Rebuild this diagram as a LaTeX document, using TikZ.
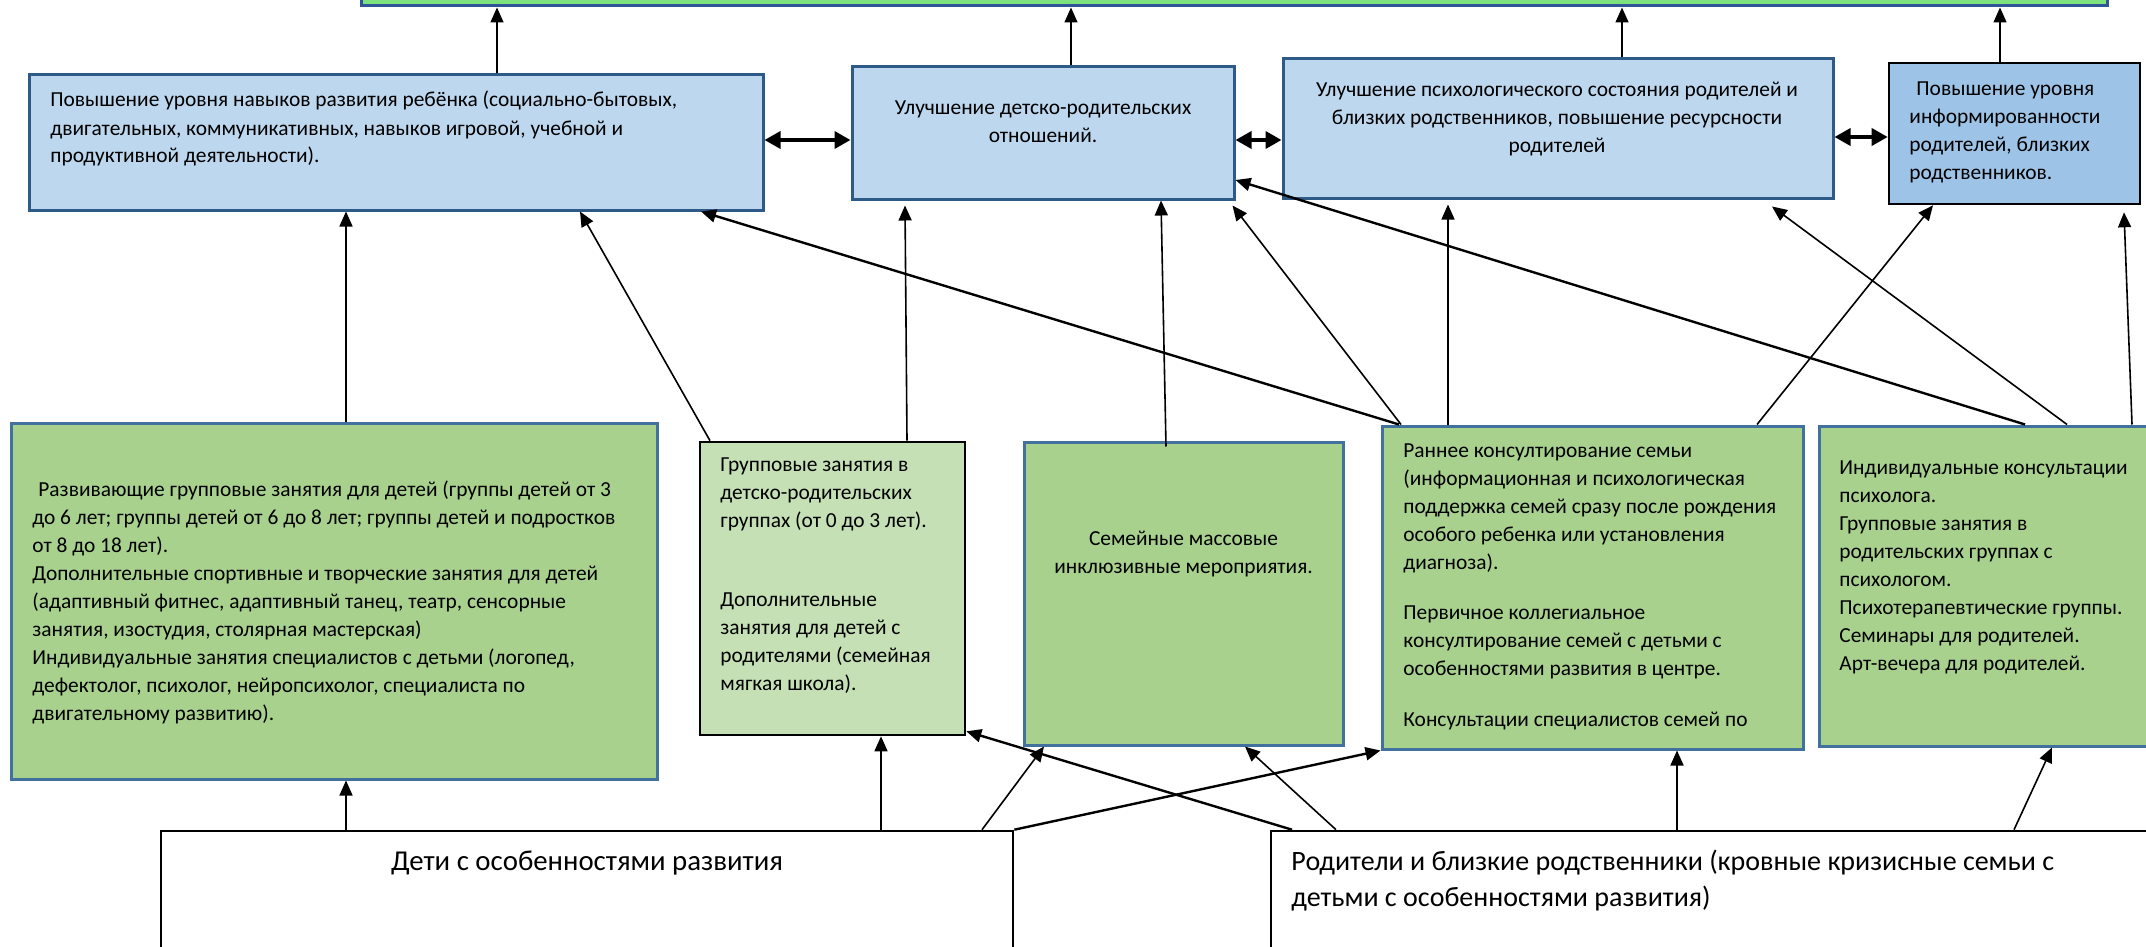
\documentclass[tikz,border=0pt]{standalone}
\usepackage{fontspec}
\setmainfont{Carlito}
\usetikzlibrary{arrows.meta,calc,fit}
\definecolor{topgreen}{RGB}{125,226,125}
\definecolor{topborder}{RGB}{47,85,151}
\definecolor{bluefill}{RGB}{189,215,238}
\definecolor{blueborder}{RGB}{46,90,135}
\definecolor{dfill}{RGB}{157,195,230}
\definecolor{greenfill}{RGB}{169,209,142}
\definecolor{greenborder}{RGB}{65,113,156}
\definecolor{lightgreen}{RGB}{197,224,180}
\begin{document}
\begin{tikzpicture}[x=0.5pt,y=-0.5pt,
  box/.style={rectangle, inner sep=0pt},
  topbox/.style={box, fill=topgreen, draw=topborder, line width=1.5pt},
  bluebox/.style={box, fill=bluefill, draw=blueborder, line width=1.5pt},
  infobox/.style={box, fill=dfill, draw=black, line width=1.3pt},
  greenbox/.style={box, fill=greenfill, draw=greenborder, line width=1.5pt},
  lightbox/.style={box, fill=lightgreen, draw=black, line width=1.3pt},
  whitebox/.style={box, fill=white, draw=black, line width=1.3pt},
  conn/.style={-{Triangle[length=7.5pt,width=6.5pt]}, line width=0.8pt},
  thickconn/.style={conn, line width=1.2pt},
  dbl/.style={{Triangle[length=8pt,width=8.5pt]}-{Triangle[length=8pt,width=8.5pt]}, line width=1.8pt},
  smalltext/.style={inner sep=0pt, font=\fontsize{10.7}{14}\selectfont},
  bigtext/.style={inner sep=0pt, font=\fontsize{14.4}{18}\selectfont},
  bigtextk/.style={inner sep=0pt, font=\fontsize{14}{18}\selectfont}]
\useasboundingbox (0,0) rectangle (2146,947);

% top bar
\node[topbox, fit={(361,-30) (2107,6)}] (T) {};

% result boxes
\node[bluebox, fit={(29,75) (763,210)}] (A) {};
\node[bluebox, fit={(852,67) (1234,199)}] (B) {};
\node[bluebox, fit={(1283,59) (1833,198)}] (C) {};
\node[infobox, fit={(1889,63) (2140,204)}] (D) {};

% activity boxes
\node[greenbox, fit={(11,423) (657,779)}] (E) {};
\node[lightbox, fit={(700,442) (965,735)}] (F) {};
\node[greenbox, fit={(1024,442) (1343,745)}] (G) {};
\node[greenbox, fit={(1382,426) (1803,749)}] (H) {};
\node[greenbox, fit={(1819,426) (2170,746)}] (I) {};

% target groups
\node[whitebox, fit={(161,831) (1013,990)}] (J) {};
\node[whitebox, fit={(1271,831) (2170,990)}] (K) {};

% texts
\node[smalltext, anchor=base west] (At) at (50,107) {\parbox[t]{360pt}{\raggedright
Повышение уровня навыков развития ребёнка (социально-бытовых,\\
двигательных, коммуникативных, навыков игровой, учебной и\\
продуктивной деятельности).}};
\node[smalltext, anchor=base] (Bt) at (1043,114) {\parbox[t]{180pt}{\centering
Улучшение детско-родительских\\ отношений.}};
\node[smalltext, anchor=base] (Ct) at (1557,97) {\parbox[t]{270pt}{\centering
Улучшение психологического состояния родителей и\\
близких родственников, повышение ресурсности\\ родителей}};
\node[smalltext, anchor=base west] (Dt) at (1909,96) {\parbox[t]{120pt}{\raggedright
\hspace*{3.5pt}Повышение уровня\\ информированности\\ родителей, близких\\ родственников.}};

\node[smalltext, anchor=base west] (Et) at (32,496) {\parbox[t]{320pt}{\raggedright
\hspace*{3pt}Развивающие групповые занятия для детей (группы детей от 3\\
до 6 лет; группы детей от 6 до 8 лет; группы детей и подростков\\
от 8 до 18 лет).\\
Дополнительные спортивные и творческие занятия для детей\\
(адаптивный фитнес, адаптивный танец, театр, сенсорные\\
занятия, изостудия, столярная мастерская)\\
Индивидуальные занятия специалистов с детьми (логопед,\\
дефектолог, психолог, нейропсихолог, специалиста по\\
двигательному развитию).}};
\node[smalltext, anchor=base west] (Ft) at (720,471) {\parbox[t]{125pt}{\raggedright
Групповые занятия в\\ детско-родительских\\ группах (от 0 до 3 лет).\\[25.75pt]
Дополнительные\\ занятия для детей с\\ родителями (семейная\\ мягкая школа).}};
\node[smalltext, anchor=base] (Gt) at (1183.5,545) {\parbox[t]{150pt}{\centering
Семейные массовые\\ инклюзивные мероприятия.}};
\node[smalltext, anchor=base west] (Ht) at (1403,457) {\parbox[t]{220pt}{\raggedright
Раннее консултирование семьи\\ (информационная и психологическая\\
поддержка семей сразу после рождения\\ особого ребенка или установления\\
диагноза).\\[11.25pt]
Первичное коллегиальное\\ консултирование семей с детьми с\\
особенностями развития в центре.\\[11.25pt]
Консультации специалистов семей по}};
\node[smalltext, anchor=base west] (It) at (1839,474) {\parbox[t]{170pt}{\raggedright
Индивидуальные консультации\\ психолога.\\ Групповые занятия в\\
родительских группах с\\ психологом.\\ Психотерапевтические группы.\\
Семинары для родителей.\\ Арт-вечера для родителей.}};

\node[bigtext, anchor=base] (Jt) at (587,870) {Дети с особенностями развития};
\node[bigtextk, anchor=base west] (Kt) at (1291,870) {\parbox[t]{440pt}{\raggedright
Родители и близкие родственники (кровные кризисные семьи с\\
детьми с особенностями развития)}};

% arrows to top bar
\draw[conn] (A.north -| 497,0) -- (T.south -| 497,0);
\draw[conn] (B.north -| 1071,0) -- (T.south -| 1071,0);
\draw[conn] (C.north -| 1622,0) -- (T.south -| 1622,0);
\draw[conn] (D.north -| 2000,0) -- (T.south -| 2000,0);

% double arrows
\draw[dbl] (A.east |- 0,140) -- (B.west |- 0,140);
\draw[dbl] (B.east |- 0,140) -- (C.west |- 0,140);
\draw[dbl] (C.east |- 0,137) -- (D.west |- 0,137);

% activities -> results
\draw[conn] (E.north -| 346,0) -- (A.south -| 346,0);
\draw[conn] (F.north -| 710,0) -- (A.south -| 580,0);
\draw[thickconn] (H.north -| 1399,0) -- (A.south -| 701,0);
\draw[conn] (F.north -| 907,0) -- ($(B.south -| 905,0)+(0,5)$);
\draw[conn] ($(G.north -| 1166,0)+(0,6)$) -- (B.south -| 1161,0);
\draw[conn] (H.north -| 1401,0) -- ($(B.south east)+(-3,5)$);
\draw[thickconn] (I.north -| 2025,0) -- (B.east |- 0,180);
\draw[conn] (H.north -| 1448,0) -- ($(C.south -| 1448,0)+(0,5)$);
\draw[conn] (I.north -| 2067,0) -- ($(C.south -| 1772,0)+(0,7)$);
\draw[conn] (H.north -| 1757,0) -- (D.south -| 1933,0);
\draw[conn] (I.north -| 2132,0) -- ($(D.south -| 2124,0)+(0,7)$);

% target groups -> activities
\draw[conn] (J.north -| 346,0) -- (E.south -| 346,0);
\draw[conn] (J.north -| 881,0) -- (F.south -| 881,0);
\draw[conn] (J.north -| 982,0) -- (G.south -| 1044,0);
\draw[thickconn] (J.north east) -- (H.south west);
\draw[thickconn] (K.north -| 1292,0) -- ($(F.south east)+(0,-5)$);
\draw[conn] (K.north -| 1336,0) -- (G.south -| 1245,0);
\draw[conn] (K.north -| 1677,0) -- (H.south -| 1677,0);
\draw[conn] (K.north -| 2014,0) -- (I.south -| 2052,0);
\end{tikzpicture}
\end{document}
